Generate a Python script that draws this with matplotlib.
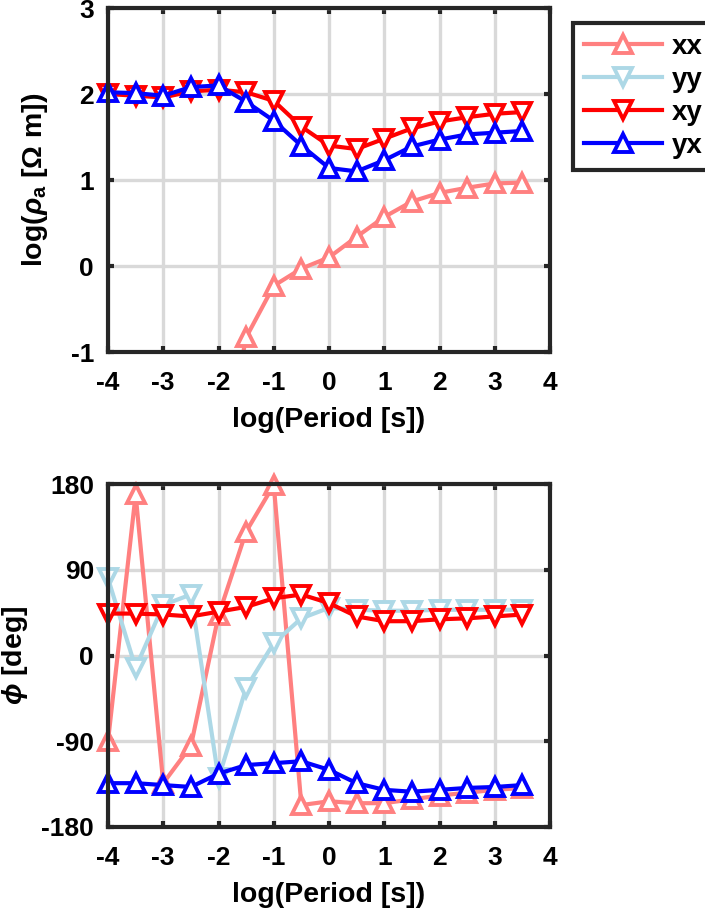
import numpy as np
import matplotlib
matplotlib.use("Agg")
import matplotlib.pyplot as plt
from matplotlib.lines import Line2D

plt.rcParams['font.family'] = ['Liberation Sans', 'DejaVu Sans']
plt.rcParams['font.weight'] = 'bold'
plt.rcParams['axes.unicode_minus'] = False
plt.rcParams['mathtext.fontset'] = 'custom'
plt.rcParams['mathtext.rm'] = 'Liberation Sans:bold'
plt.rcParams['mathtext.it'] = 'Liberation Sans:bold:italic'
plt.rcParams['mathtext.bf'] = 'Liberation Sans:bold'

# log10 period
log_period = [-4.0, -3.5, -3.0, -2.5, -2.0, -1.5, -1.0, -0.5,
              0.0, 0.5, 1.0, 1.5, 2.0, 2.5, 3.0, 3.5]

# log10 apparent resistivity
rho_xx = [-2.2, -2.3, -2.4, -2.5, -2.5, -0.83, -0.23, -0.03,
          0.10, 0.34, 0.57, 0.75, 0.85, 0.91, 0.96, 0.97]
rho_yy = [-1.6, -1.7, -1.6, -1.5, -1.8, -1.6, -1.5, -1.4,
          -1.5, -1.6, -1.5, -1.4, -1.4, -1.3, -1.3, -1.3]
rho_xy = [2.00, 1.98, 1.96, 2.03, 2.05, 2.02, 1.92, 1.62,
          1.40, 1.36, 1.48, 1.60, 1.68, 1.73, 1.77, 1.79]
rho_yx = [2.02, 2.01, 1.98, 2.08, 2.10, 1.91, 1.69, 1.40,
          1.14, 1.10, 1.23, 1.39, 1.47, 1.53, 1.55, 1.57]

# phase in degrees
phi_xx = [-90, 169, -134, -95, 42, 130, 179, -157,
          -153, -155, -155, -151, -147, -144, -141, -139]
phi_yy = [81, -13, 53, 64, -129, -34, 13, 39,
          50, 48, 47, 47, 48, 48, 48, 48]
phi_xy = [44, 44, 43, 41, 46, 51, 60, 64,
          55, 41, 36, 36, 38, 39, 41, 43]
phi_yx = [-134, -134, -136, -138, -124, -115, -113, -111,
          -120, -134, -141, -143, -141, -139, -138, -136]

labels = ["xx", "yy", "xy", "yx"]
colors = ["#ff8080", "#add8e6", "#ff0000", "#0000ff"]
markers = ["^", "v", "v", "^"]

dark = "#262626"
line_kw = dict(linewidth=3)
mark_kw = dict(markersize=13, markeredgewidth=2.8, markerfacecolor="white")


def style_axes(ax):
    ax.set_xlim(-4, 4)
    ax.set_xticks(range(-4, 5))
    ax.grid(True, color="#d9d9d9", linewidth=2.4)
    ax.set_axisbelow(True)
    for sp in ax.spines.values():
        sp.set_linewidth(3)
        sp.set_color(dark)
        sp.set_zorder(5)
    ax.tick_params(direction="in", length=4, width=3, color=dark,
                   top=True, right=True, labelsize=19)
    ax.tick_params(axis="x", pad=14)
    ax.tick_params(axis="y", pad=10)
    for t in ax.get_xticklabels() + ax.get_yticklabels():
        t.set_fontweight("bold")
    ax.set_xlabel("log(Period [s])", fontsize=20.5, fontweight="bold", labelpad=8)


def draw(ax, series, ylim):
    x = np.array(log_period)
    for y, c, m in zip(series, colors, markers):
        y = np.array(y, dtype=float)
        ax.plot(x, y, color=c, **line_kw)
        inside = (y >= ylim[0]) & (y <= ylim[1])
        ax.plot(x[inside], y[inside], linestyle="none", color=c, marker=m,
                clip_on=False, **mark_kw)
    ax.set_ylim(*ylim)


fig = plt.figure(figsize=(7.05, 9.10), dpi=100)
ax1 = fig.add_axes([108 / 705, 1 - 352 / 910, 442 / 705, 344 / 910])
ax2 = fig.add_axes([108 / 705, 1 - 827 / 910, 442 / 705, 343 / 910])

draw(ax1, [rho_xx, rho_yy, rho_xy, rho_yx], (-1, 3))
style_axes(ax1)
ax1.set_yticks([-1, 0, 1, 2, 3])
ax1.set_ylabel(r"log($\rho_{\mathrm{a}}$ [$\mathit{Ω}$ m])", fontsize=20.5,
               fontweight="bold", labelpad=15)

draw(ax2, [phi_xx, phi_yy, phi_xy, phi_yx], (-180, 180))
style_axes(ax2)
ax2.set_yticks([-180, -90, 0, 90, 180])
ax2.set_ylabel(r"$\phi$ [deg]", fontsize=20.5, fontweight="bold", labelpad=8)

handles = [Line2D([], [], color=c, marker=m, **line_kw, **mark_kw)
           for c, m in zip(colors, markers)]
leg = ax1.legend(handles, labels, loc="upper left",
                 bbox_to_anchor=(573 / 705, 1 - 23 / 910),
                 bbox_transform=fig.transFigure, borderaxespad=0,
                 fancybox=False, edgecolor=dark, framealpha=1,
                 prop={"size": 20, "weight": "bold"}, handlelength=2.8,
                 handletextpad=0.35, labelspacing=0.25, borderpad=0.4)
leg.get_frame().set_linewidth(3)

fig.savefig("out.png", dpi=100)
